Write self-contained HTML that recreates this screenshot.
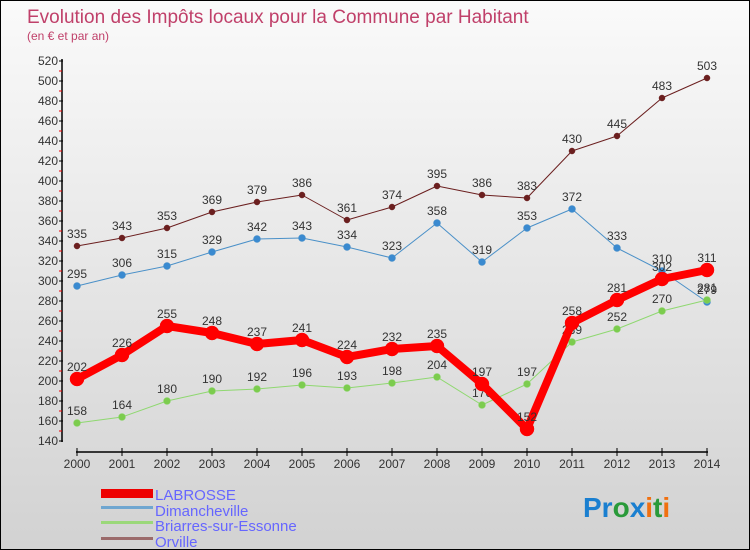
<!DOCTYPE html>
<html><head><meta charset="utf-8"><style>
body{margin:0;}
#wrap{width:748px;height:548px;border:1px solid #000;position:relative;background:linear-gradient(#fafafa,#d2d2d2);font-family:"Liberation Sans",sans-serif;overflow:hidden}
svg{position:absolute;left:0;top:0}
</style></head><body>
<div id="wrap">
<svg id="chart" width="750" height="550">
<text x="26" y="22" font-size="19" fill="#c0406a">Evolution des Impôts locaux pour la Commune par Habitant</text>
<text x="26" y="39" font-size="12" fill="#c0406a">(en € et par an)</text>
<g id="axes"></g><g id="series"></g>
<g>
<rect x="100" y="488" width="52" height="9" fill="#e00"/>
<text x="154" y="499" font-size="15" fill="#6666ff">LABROSSE</text>
<rect x="100" y="505" width="52" height="3" fill="#6fa6d0"/>
<text x="154" y="515" font-size="15" fill="#6666ff">Dimancheville</text>
<rect x="100" y="520" width="52" height="3" fill="#9bd87a"/>
<text x="154" y="530" font-size="15" fill="#6666ff">Briarres-sur-Essonne</text>
<rect x="100" y="536" width="52" height="3" fill="#9b6b6b"/>
<text x="154" y="546" font-size="15" fill="#6666ff">Orville</text>
</g>
<text x="582" y="516" font-size="28" font-weight="bold"><tspan fill="#1a7fd0">Pr</tspan><tspan fill="#2a9a3a">o</tspan><tspan fill="#1a7fd0">x</tspan><tspan fill="#f07010">i</tspan><tspan fill="#2a9a3a">t</tspan><tspan fill="#f07010">i</tspan></text>
</svg>
</div>
<script>
const years=[2000,2001,2002,2003,2004,2005,2006,2007,2008,2009,2010,2011,2012,2013,2014];
const labrosse=[202,226,255,248,237,241,224,232,235,197,152,258,281,302,311];
const dimancheville=[295,306,315,329,342,343,334,323,358,319,353,372,333,310,279];
const briarres=[158,164,180,190,192,196,193,198,204,176,197,239,252,270,281];
const orville=[335,343,353,369,379,386,361,374,395,386,383,430,445,483,503];
const yTicks=[140,160,180,200,220,240,260,280,300,320,340,360,380,400,420,440,460,480,500,520];
const NS='http://www.w3.org/2000/svg';
const xs=i=>76+i*45;
const ys=v=>440-(v-140);
function mk(tag,attrs,parent){const e=document.createElementNS(NS,tag);for(const k in attrs)e.setAttribute(k,attrs[k]);parent.appendChild(e);return e;}
const ax=document.getElementById('axes');
let l=mk('line',{x1:61,y1:58,x2:61,y2:441,stroke:'#000','stroke-width':1.5},ax);


l=mk('line',{x1:75,y1:451,x2:707,y2:451,stroke:'#000','stroke-width':1.5},ax);


yTicks.forEach((t,i)=>{
 mk('line',{x1:58,y1:ys(t),x2:62,y2:ys(t),stroke:'#000'},ax);
 if(i<yTicks.length-1)mk('line',{x1:58,y1:ys(t+10),x2:61,y2:ys(t+10),stroke:'#e00'},ax);
 const tx=mk('text',{x:57,y:ys(t)+4,'font-size':12,fill:'#333','text-anchor':'end'},ax);
 tx.textContent=t;
 
 
});
years.forEach((y,i)=>{
 mk('line',{x1:xs(i),y1:447,x2:xs(i),y2:455,stroke:'#000'},ax);
 const tx=mk('text',{x:xs(i),y:467,'font-size':12,fill:'#333','text-anchor':'middle'},ax);
 tx.textContent=y;
 
 
});
const sg=document.getElementById('series');
function series(name,vals,color,dot,w,r){
 const g=mk('g',{},sg);
 
 
 mk('polyline',{points:vals.map((v,i)=>xs(i)+','+ys(v)).join(' '),fill:'none',stroke:color,'stroke-width':w,'stroke-linejoin':'round'},g);
 vals.forEach((v,i)=>{
  const c=mk('circle',{cx:xs(i),cy:ys(v),r:r,fill:dot,stroke:color,'stroke-width':0.5},g);
  
  
  const t=mk('text',{x:xs(i),y:ys(v)-8,'font-size':12,fill:'#333','text-anchor':'middle'},g);
  t.textContent=v;
  
  
 });
}
series('orville',orville,'#6b1f1f','#6b1f1f',1,3);
series('dimancheville',dimancheville,'#4a90c8','#3a8ad0',1,3.5);
series('briarres',briarres,'#8fd870','#7ccc4e',1,3.5);
series('labrosse',labrosse,'#f00','#f00',8,7);
</script>
</body></html>
